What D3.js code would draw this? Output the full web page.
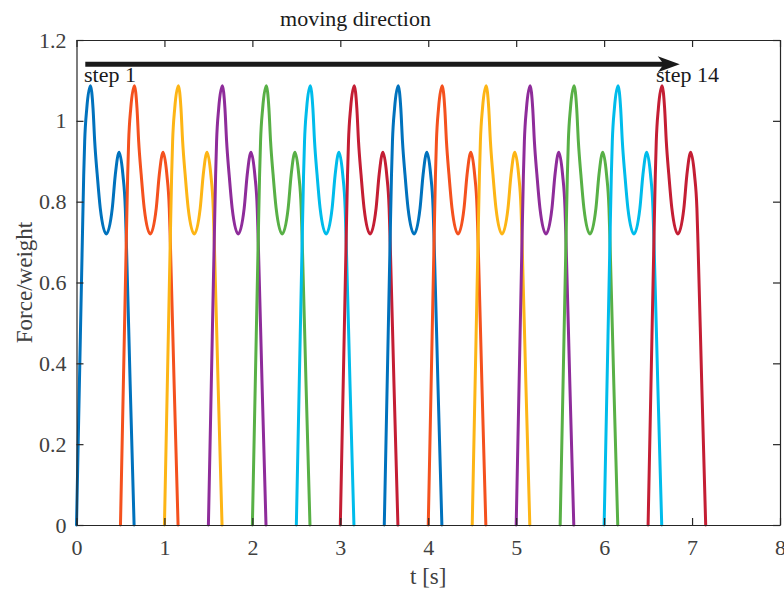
<!DOCTYPE html>
<html>
<head>
<meta charset="utf-8">
<script src="https://cdn.jsdelivr.net/npm/d3@7"></script>
<style>
  html, body { margin: 0; padding: 0; background: #ffffff; }
  svg { display: block; }
  text { font-family: "Liberation Serif", "Times New Roman", serif; }
</style>
</head>
<body>
<div id="chart"></div>
<script>
// ---- data ----
const stepStarts = [0, 0.5, 1.0, 1.5, 2.0, 2.5, 3.0, 3.5, 4.0, 4.5, 5.0, 5.5, 6.0, 6.5];
const stepLabels = ["step 1", "step 14"];
// one footstep force curve, time relative to step start [s]
const shapeT = [0, 0.033, 0.066, 0.082, 0.093, 0.117, 0.158, 0.188, 0.207, 0.236, 0.27, 0.339, 0.407, 0.441, 0.484, 0.528, 0.555, 0.567, 0.61, 0.655];
const shapeF = [0, 0.35, 0.70, 0.866, 0.949, 1.031, 1.087, 1.031, 0.949, 0.866, 0.784, 0.72, 0.784, 0.866, 0.922, 0.866, 0.784, 0.70, 0.35, 0];
const xTicks = [0, 1, 2, 3, 4, 5, 6, 7, 8];
const yTicks = [0, 0.2, 0.4, 0.6, 0.8, 1.0, 1.2];
const arrowT = [0.1, 6.86];
const arrowY = 1.14;

// ---- style ----
const palette = ["#0072BD", "#F4511E", "#FDB515", "#8E2C9A", "#58B046", "#00BCEB", "#C41E34"];
const W = 784, H = 592;
const axisColor = "#262626", tickText = "#404040";

const svg = d3.select("#chart").append("svg").attr("width", W).attr("height", H);

const x = d3.scaleLinear().domain([0, 8]).range([76.5, 780]);
const y = d3.scaleLinear().domain([0, 1.2]).range([525, 40]);

// curves
const line = d3.line()
  .x(d => x(d[0]))
  .y(d => y(d[1]))
  .curve(d3.curveMonotoneX);

stepStarts.forEach((t0, i) => {
  const pts = shapeT.map((t, j) => [t0 + t, shapeF[j]]);
  svg.append("path")
    .datum(pts)
    .attr("d", line)
    .attr("fill", "none")
    .attr("stroke", palette[i % palette.length])
    .attr("stroke-width", 3)
    .attr("stroke-linejoin", "round")
    .attr("stroke-linecap", "round");
});

// axes (box with inward ticks)
const tickLen = 7;
const fmt = d => (d === 0 ? "0" : d3.format("~g")(+d.toFixed(1)));
const gx = svg.append("g").attr("transform", `translate(0,${y(0)})`)
  .call(d3.axisBottom(x).tickValues(xTicks).tickSizeInner(-tickLen).tickSizeOuter(0).tickPadding(14).tickFormat(fmt));
const gy = svg.append("g").attr("transform", `translate(${x(0)},0)`)
  .call(d3.axisLeft(y).tickValues(yTicks).tickSizeInner(-tickLen).tickSizeOuter(0).tickPadding(10).tickFormat(fmt));
const gxt = svg.append("g").attr("transform", `translate(0,${y(1.2)})`)
  .call(d3.axisTop(x).tickValues(xTicks).tickSizeInner(-tickLen).tickSizeOuter(0).tickFormat(""));
const gyr = svg.append("g").attr("transform", `translate(${x(8)},0)`)
  .call(d3.axisRight(y).tickValues(yTicks).tickSizeInner(-tickLen).tickSizeOuter(0).tickFormat(""));

[gx, gy, gxt, gyr].forEach(g => {
  g.select(".domain").attr("stroke", axisColor).attr("stroke-width", 1.2);
  g.selectAll(".tick line").attr("stroke", axisColor).attr("stroke-width", 1.2);
  g.selectAll(".tick text").attr("fill", tickText).style("font-size", "22px")
    .style("font-family", '"Liberation Serif", "Times New Roman", serif');
});
gx.selectAll(".tick text").attr("dy", "0.71em");

// axis labels
svg.append("text")
  .attr("x", (x(0) + x(8)) / 2).attr("y", 584)
  .attr("text-anchor", "middle").attr("fill", tickText)
  .style("font-size", "23px").text("t [s]");
svg.append("text")
  .attr("transform", `translate(32,${(y(0) + y(1.2)) / 2}) rotate(-90)`)
  .attr("text-anchor", "middle").attr("fill", tickText)
  .style("font-size", "23px").text("Force/weight");

// arrow
const ax0 = x(arrowT[0]), ax1 = x(arrowT[1]), ay = y(arrowY);
svg.append("line")
  .attr("x1", ax0).attr("x2", ax1 - 14).attr("y1", ay).attr("y2", ay)
  .attr("stroke", "#1a1a1a").attr("stroke-width", 5);
svg.append("path")
  .attr("d", `M${ax1},${ay} L${ax1 - 22},${ay - 8} L${ax1 - 16},${ay} L${ax1 - 22},${ay + 8} Z`)
  .attr("fill", "#1a1a1a");

// annotations
svg.append("text").attr("x", 355.5).attr("y", 26).attr("text-anchor", "middle")
  .attr("fill", "#1a1a1a").style("font-size", "22px").text("moving direction");
svg.append("text").attr("x", 84).attr("y", 82).attr("fill", "#1a1a1a")
  .style("font-size", "22px").text(stepLabels[0]);
svg.append("text").attr("x", 656).attr("y", 82).attr("fill", "#1a1a1a")
  .style("font-size", "22px").text(stepLabels[1]);
</script>
</body>
</html>
